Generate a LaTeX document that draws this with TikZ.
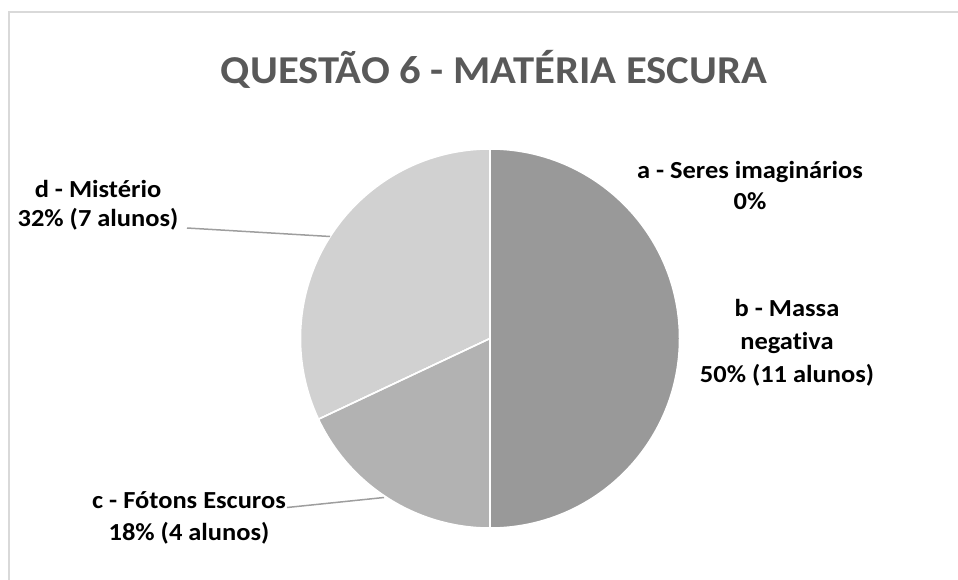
\documentclass[tikz,border=0pt]{standalone}
\usepackage{fontspec}
\setmainfont{Carlito}
\newfontfamily\lblfont[FakeStretch=1.08, Ligatures={NoCommon, NoDiscretionary}]{Carlito}
\newfontfamily\ttlfont[FakeStretch=1.08, Ligatures=NoCommon]{Carlito}
\begin{document}
\begin{tikzpicture}[x=1pt,y=-1pt,
  lbl/.style={font=\lblfont\bfseries\fontsize{24.5}{31}\selectfont, align=center, inner sep=0pt, text=black},
  leader/.style={draw=black!38, line width=1.5pt},
  slice/.style={draw=white, line width=1.5pt, line join=round}]
\useasboundingbox (0,0) rectangle (958,580);
% chart frame
\draw[color=black!15, line width=2pt] (970,12) -- (9,12) -- (9,600);
% title
\node[font=\ttlfont\bfseries\fontsize{39.5}{40}\selectfont, text=black!65, inner sep=0pt, anchor=base] (title) at (494,84) {QUESTÃO 6 - MATÉRIA ESCURA};
% pie
\coordinate (C) at (490,338.5);
\begin{scope}[shift={(490,338.5)}, yscale=-1]
  \fill[black!40, slice] (0,0) -- (-90:189.5) arc[start angle=-90, end angle=90, radius=189.5] -- cycle;
  \fill[black!18, slice] (0,0) -- (90:189.5) arc[start angle=90, end angle=205.2, radius=189.5] -- cycle;
  \fill[black!30, slice] (0,0) -- (205.2:189.5) arc[start angle=205.2, end angle=270, radius=189.5] -- cycle;
  \draw[slice] (0,0) -- (-90:189.5);
  \draw[slice] (0,0) -- (90:189.5);
  \draw[slice] (0,0) -- (205.2:189.5);
\end{scope}
% labels
\node[lbl] (alab) at (750,186) {a - Seres imaginários\\[0pt]0\%};
\node[lbl] (blab) at (787,343) {b - Massa\\[2pt]negativa\\[2pt]50\% (11 alunos)};
\node[lbl] (clab) at (189,518) {c - Fótons Escuros\\[1pt]18\% (4 alunos)};
\node[lbl] (dlab) at (98,205) {d - Mistério\\[-2pt]32\% (7 alunos)};
% leader lines
\coordinate (dA) at (187,228);
\coordinate (dB) at (330,236.5);
\coordinate (cA) at (287,507.5);
\coordinate (cB) at (384,497.5);
\draw[leader] (dA) -- (dB);
\draw[leader] (cA) -- (cB);
\end{tikzpicture}
\end{document}
